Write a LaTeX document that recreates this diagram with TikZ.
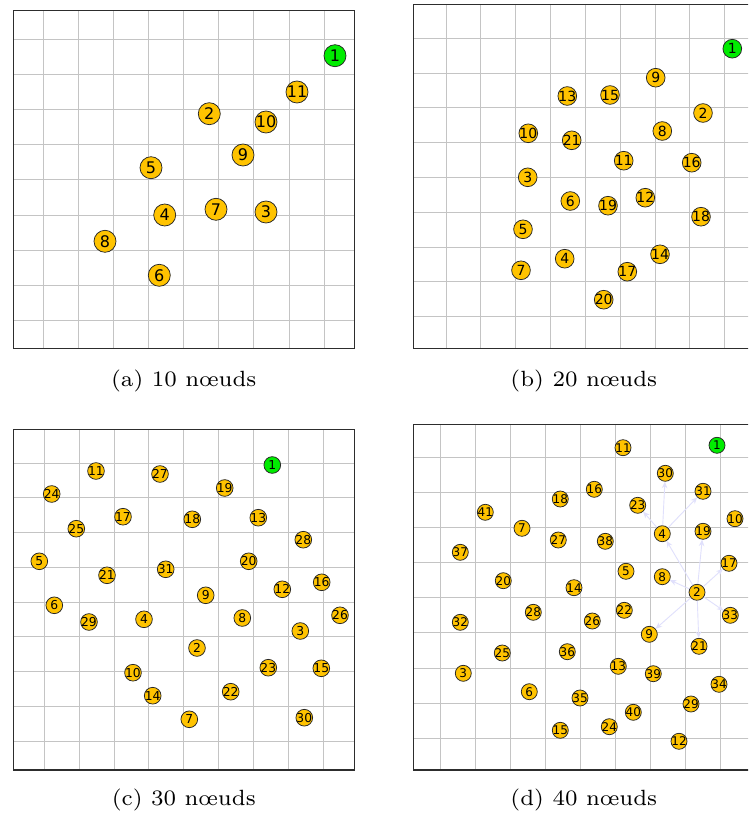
\documentclass[tikz,border=0pt]{standalone}
\usepackage{fontspec}
\newfontfamily\lblfont{DejaVu Sans}
\usetikzlibrary{arrows.meta}
\definecolor{nodeyellow}{RGB}{255,195,0}
\definecolor{nodegreen}{RGB}{0,236,0}
\definecolor{gridgray}{RGB}{196,196,196}
\definecolor{framegray}{RGB}{45,45,45}
\definecolor{arrowlav}{RGB}{224,224,252}
\begin{document}
\begin{tikzpicture}[x=1pt,y=-1pt,
  gridline/.style={gridgray, line width=1pt},
  frameline/.style={framegray, line width=1.3pt},
  vnode/.style={circle, draw=black!85, line width=0.75pt, fill=nodeyellow, inner sep=0pt, text=black},
  srcnode/.style={fill=nodegreen},
  sizea/.style={vnode, minimum size=22pt, font=\lblfont\fontsize{16}{16}\selectfont},
  sizeb/.style={vnode, minimum size=18.7pt, font=\lblfont\fontsize{14}{14}\selectfont},
  sizec/.style={vnode, minimum size=16.7pt, font=\lblfont\fontsize{12.3}{12.3}\selectfont},
  sized/.style={vnode, minimum size=16pt, font=\lblfont\fontsize{12}{12}\selectfont},
  arr/.style={arrowlav, line width=0.9pt, -{Stealth[length=6.5pt,width=5.5pt]}},
  captxt/.style={anchor=base, inner sep=0pt, font=\fontsize{7}{8}\selectfont, scale=3.15}
]
\useasboundingbox (0,0) rectangle (748,813);
\clip (0,0) rectangle (748,813);
\fill[white] (0,0) rectangle (748,813);

% ---------- panel (a)
\foreach \k in {0,...,8} {
  \draw[gridline] ({43.3+35.1*\k},10.7) -- ({43.3+35.1*\k},348.3);
  \draw[gridline] (13.3,{39.7+35.07*\k}) -- (354.3,{39.7+35.07*\k});
}
\draw[frameline] (13.3,10.7) rectangle (354.3,348.3);
\foreach \n/\x/\y in {2/209.3/113.7, 3/266/212, 4/164.7/215, 5/151/167.7, 6/159.3/275.3, 7/216/209.3, 8/105/241.3, 9/243/155, 10/266/122, 11/297/92}
  \node[sizea] (a\n) at (\x,\y) {\makebox[0pt]{\n}};
\node[sizea, srcnode] (a1) at (335,55.7) {\makebox[0pt]{1}};
\node[captxt] (capa) at (183.8,386.5) {(a) 10 nœuds};

% ---------- panel (b)
\foreach \k in {0,...,8} {
  \draw[gridline] ({446+34.84*\k},4.7) -- ({446+34.84*\k},348.3);
  \draw[gridline] (413.3,{38.3+34.8*\k}) -- (760,{38.3+34.8*\k});
}
\draw[frameline] (413.3,4.7) rectangle (760,348.3);
\foreach \n/\x/\y in {9/655.7/77.7, 13/567.3/96, 15/610/95, 2/703/113, 10/528.3/133.3, 8/662.3/131, 21/571.7/140.3, 11/623.7/160.7, 16/691.7/162.7, 3/527.7/177.3, 6/570.3/201, 19/608/205.7, 12/645.3/197.7, 18/701/216.7, 5/523/229.3, 4/564.7/258.7, 14/660/254.3, 7/521/270.3, 17/627.3/271.7, 20/603.7/299.7}
  \node[sizeb] (b\n) at (\x,\y) {\makebox[0pt]{\n}};
\node[sizeb, srcnode] (b1) at (732.3,48.7) {\makebox[0pt]{1}};
\node[captxt] (capb) at (583.8,386.5) {(b) 20 nœuds};

% ---------- panel (c)
\foreach \k in {0,...,8} {
  \draw[gridline] ({44.3+34.875*\k},429.3) -- ({44.3+34.875*\k},770);
  \draw[gridline] (13.3,{463+34.79*\k}) -- (354.3,{463+34.79*\k});
}
\draw[frameline] (13.3,429.3) rectangle (354.3,770);
\foreach \n/\x/\y in {11/96/471, 27/160/474, 19/224.7/488, 24/51.7/494, 17/123/516.7, 18/192.3/519.3, 13/258.3/517.7, 25/76.3/528.7, 28/303.3/539.7, 5/39.3/561.3, 20/248.7/561.3, 31/165.7/569.3, 21/107/575.3, 16/321.7/582.3, 12/282.3/589.3, 9/205.7/595.3, 6/54.3/605.3, 26/340/615.3, 29/89/622, 4/144/619.3, 8/242.3/618, 3/300.3/631, 2/197/648, 23/268.3/667.7, 15/321.3/668.3, 10/133/672.7, 14/152.7/695.7, 22/230.7/691.7, 7/189.3/719.3, 30/304.3/717.7}
  \node[sizec] (c\n) at (\x,\y) {\makebox[0pt]{\n}};
\node[sizec, srcnode] (c1) at (272.3,465) {\makebox[0pt]{1}};
\node[captxt] (capc) at (183.8,805) {(c) 30 nœuds};

% ---------- panel (d)
\foreach \k in {0,...,8} {
  \draw[gridline] ({440.3+35*\k},424.7) -- ({440.3+35*\k},770);
  \draw[gridline] (413.3,{457.3+35.125*\k}) -- (760,{457.3+35.125*\k});
}
\draw[frameline] (413.3,424.7) rectangle (760,770);
\foreach \n/\x/\y in {11/623/447.7, 30/665.3/473.3, 31/703/491.3, 16/594.3/489.3, 18/560.3/499, 23/637.7/505.3, 41/485.3/512.3, 10/735/518.7, 7/522/528.3, 4/662.3/533.7, 19/703/531.3, 27/558.3/540, 38/605.3/541.3, 37/460.3/552.3, 17/729/563.3, 5/626/571.3, 8/662.3/576.7, 20/503.3/580.7, 14/574/587.7, 2/697/592.3, 28/533.3/612.3, 22/624.3/610.3, 33/730.3/615.3, 26/592.3/621, 32/460.3/622.3, 9/649.3/634.3, 21/699/646.3, 25/502.3/653, 36/567.3/651.7, 13/618.3/666.3, 3/463.3/673.3, 39/653.3/673.7, 34/719/684.3, 6/529.3/691.7, 35/580/698, 29/691/704, 40/633.3/712.3, 15/560.3/730.3, 24/609.3/726.7, 12/679/741.3}
  \node[sized] (d\n) at (\x,\y) {\makebox[0pt]{\n}};
\node[sized, srcnode] (d1) at (717,445.3) {\makebox[0pt]{1}};
\begin{scope}[on background layer/.try]
\end{scope}
\foreach \t in {4,8,9,21,19,17,33}
  \draw[arr] (d2) -- (d\t);
\foreach \t in {30,31,23}
  \draw[arr] (d4) -- (d\t);
\node[captxt] (capd) at (583.8,805) {(d) 40 nœuds};
\end{tikzpicture}
\end{document}
